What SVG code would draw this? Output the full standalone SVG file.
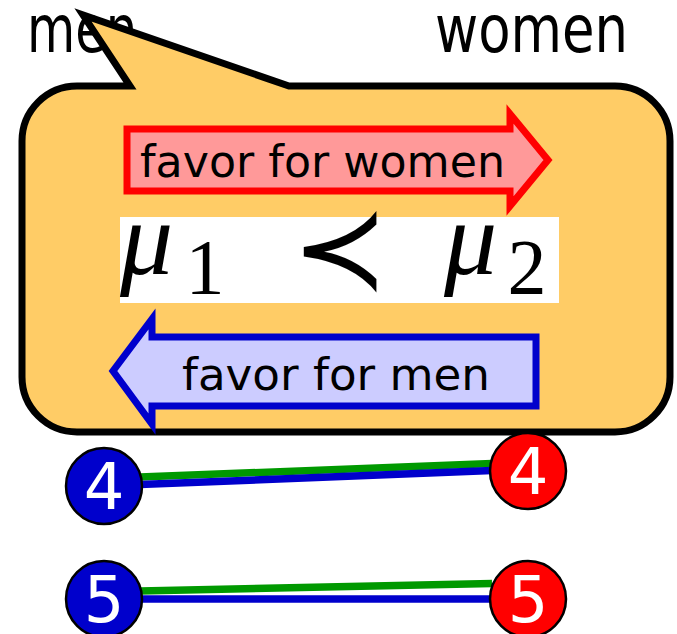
<svg xmlns="http://www.w3.org/2000/svg" width="677" height="634" viewBox="0 0 677 634">
<style>
.title{font-family:"DejaVu Sans",sans-serif;font-size:66px;fill:#000}
.lbl{font-family:"DejaVu Sans",sans-serif;font-size:44px;fill:#000}
.num{font-family:"DejaVu Sans",sans-serif;font-size:64px;fill:#fff;text-anchor:middle}
.math{font-family:"Liberation Serif","DejaVu Serif",serif;fill:#000}
.man circle{fill:#0000CC;stroke:#000;stroke-width:2.5}
.woman circle{fill:#FF0000;stroke:#000;stroke-width:2.5}
.g{stroke:#009900;stroke-width:7.5;fill:none}
.b{stroke:#0000CC;stroke-width:7.5;fill:none}
</style>
<rect width="677" height="634" fill="#fff"/>
<g id="label-men"><text class="title" x="27" y="52" textLength="110" lengthAdjust="spacingAndGlyphs">men</text></g>
<g id="label-women"><text class="title" x="435" y="52" textLength="193" lengthAdjust="spacingAndGlyphs">women</text></g>
<g id="callout">
<path d="M77,86 L130,86 L83,15 L289,86 L615,86 A55,55 0 0 1 670,141 L670,377 A55,55 0 0 1 615,432 L77,432 A55,55 0 0 1 22,377 L22,141 A55,55 0 0 1 77,86 Z" fill="#FFCC66" stroke="#000" stroke-width="7" stroke-linejoin="miter" stroke-miterlimit="10"/>
</g>
<g id="arrow-women">
<path d="M127,129 L510,129 L510,114 L548,160 L510,206 L510,191 L127,191 Z" fill="#FF9999" stroke="#FF0000" stroke-width="7"/>
<text class="lbl" x="140" y="177" textLength="365" lengthAdjust="spacingAndGlyphs">favor for women</text>
</g>
<g id="formula">
<rect x="120" y="217" width="439" height="86" fill="#fff"/>
<text class="math" x="120" y="274" font-size="106" font-style="italic">μ</text>
<text class="math" x="205" y="293" font-size="78" text-anchor="middle">1</text>
<text x="340" y="288" font-family="DejaVu Sans,sans-serif" font-size="116" text-anchor="middle" fill="#000">≺</text>
<text class="math" x="444" y="274" font-size="106" font-style="italic">μ</text>
<text class="math" x="527" y="293" font-size="78" text-anchor="middle">2</text>
</g>
<g id="arrow-men">
<path d="M536,337 L152,337 L152,319 L113,371 L152,424 L152,406 L536,406 Z" fill="#CCCCFF" stroke="#0000CC" stroke-width="7"/>
<text class="lbl" x="182" y="390" textLength="308" lengthAdjust="spacingAndGlyphs">favor for men</text>
</g>
<g id="connectors">
<line class="g" x1="140" y1="477" x2="492" y2="463.5"/>
<line class="b" x1="140" y1="484.5" x2="492" y2="470.5"/>
<line class="g" x1="140" y1="591" x2="492" y2="583.5"/>
<line class="b" x1="140" y1="599" x2="492" y2="599"/>
</g>
<g id="man4" class="man"><circle cx="104" cy="486" r="38"/><text class="num" x="104" y="509">4</text></g>
<g id="woman4" class="woman"><circle cx="528" cy="471" r="38"/><text class="num" x="528" y="494">4</text></g>
<g id="man5" class="man"><circle cx="104" cy="599" r="38"/><text class="num" x="104" y="622">5</text></g>
<g id="woman5" class="woman"><circle cx="528" cy="599" r="38"/><text class="num" x="528" y="622">5</text></g>
</svg>
